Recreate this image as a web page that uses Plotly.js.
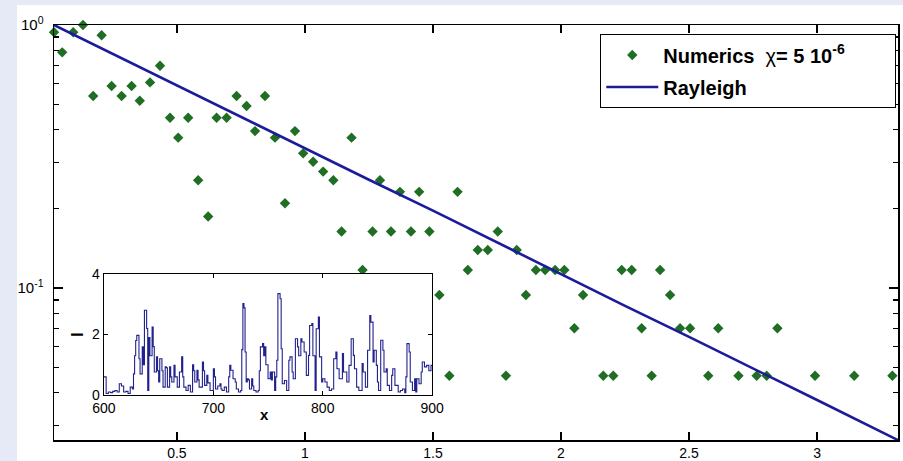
<!DOCTYPE html>
<html>
<head>
<meta charset="utf-8">
<script src="https://cdn.plot.ly/plotly-3.0.1.min.js"></script>
<style>
  html, body { margin: 0; padding: 0; width: 903px; height: 461px; background: #e6eaf7; overflow: hidden; }
  #chart { position: absolute; left: 17px; top: 5px; width: 886px; height: 456px; }
</style>
</head>
<body>
<div id="chart"></div>
<script>
// ---- Main panel: numerics (histogram tail) ----
const numericsX = [0.020, 0.052, 0.095, 0.133, 0.173, 0.206, 0.245, 0.284, 0.323, 0.355,
  0.395, 0.434, 0.473, 0.505, 0.544, 0.583, 0.622, 0.655, 0.694, 0.733,
  0.772, 0.805, 0.844, 0.883, 0.922, 0.961, 0.993, 1.032, 1.071, 1.111,
  1.143, 1.182, 1.225, 1.264, 1.293, 1.336, 1.371, 1.414, 1.446, 1.486,
  1.525, 1.564, 1.596, 1.636, 1.675, 1.714, 1.753, 1.785, 1.827, 1.863,
  1.902, 1.938, 1.977, 2.013, 2.052, 2.086, 2.165, 2.204, 2.237, 2.276,
  2.315, 2.354, 2.387, 2.426, 2.465, 2.504, 2.575, 2.614, 2.693, 2.764,
  2.803, 2.845, 2.992, 3.145, 3.294, 3.322];
const numericsY = [0.938, 0.787, 0.938, 1.0, 0.537, 0.914, 0.586, 0.537, 0.586, 0.515,
  0.605, 0.70, 0.444, 0.373, 0.444, 0.257, 0.187, 0.444, 0.444, 0.537,
  0.492, 0.395, 0.537, 0.373, 0.21, 0.395, 0.325, 0.302, 0.277, 0.257,
  0.164, 0.373, 0.117, 0.164, 0.257, 0.164, 0.232, 0.164, 0.232, 0.164,
  0.094, 0.0464, 0.232, 0.117, 0.1395, 0.1395, 0.164, 0.0464, 0.1395, 0.094,
  0.117, 0.117, 0.117, 0.117, 0.0703, 0.094, 0.0464, 0.0464, 0.117, 0.117,
  0.0703, 0.0464, 0.117, 0.094, 0.0703, 0.0703, 0.0464, 0.0703, 0.0464, 0.0464,
  0.0464, 0.0703, 0.0464, 0.0464, 0.0464, 0.0464];

// ---- Main panel: Rayleigh reference line ----
const rayleighX = [0.02, 0.25, 0.5, 0.75, 1.0, 1.25, 1.5, 1.75, 2.0, 2.25, 2.5, 2.75, 3.0, 3.316];
const rayleighY = [1.0, 0.776, 0.589, 0.447, 0.341, 0.258, 0.197, 0.149, 0.1135, 0.0855, 0.0652, 0.0493, 0.0375, 0.0264];

// ---- Inset: intensity I(x) ----
const insetX = [600,601,602,604,606,608,610,612,614,616,618,620,622,624,626,627,628,629,630,632,
  633,635,636,637,639,640,641,642,644,645,646,648,649,650,651,653,654,656,657,658,
  660,661,662,664,665,667,669,671,672,673,675,677,679,681,682,683,685,686,687,690,
  691,692,694,695,697,700,701,702,704,706,707,708,710,712,714,715,716,718,720,721,
  723,725,726,727,728,729,730,731,732,733,735,736,737,739,741,742,743,745,746,747,
  748,750,752,753,754,756,757,758,759,760,761,762,763,765,767,769,770,772,773,775,
  777,778,780,781,783,785,787,788,790,791,793,794,796,797,799,800,802,804,806,808,
  810,812,813,815,818,819,822,824,826,828,829,831,833,836,837,839,841,843,844,846,
  847,849,850,851,853,855,856,858,859,861,863,864,866,869,871,873,875,876,877,879,
  880,882,884,885,886,888,890,891,893,895,897,899,900];
const insetI = [0.6,0.6,0.05,0.1,0.08,0.12,0.15,0.1,0.37,0.3,0.1,0.12,0.05,0.26,0.2,0.7,1.3,1.8,1.97,1.2,
  0.7,1.59,1.0,2.8,2.2,0.15,1.9,1.3,2.25,1.6,0.76,1.26,0.8,0.43,1.2,0.8,0.26,0.93,0.9,0.26,
  0.93,0.6,0.43,0.98,0.6,0.26,0.76,1.26,0.6,0.26,0.15,0.32,0.1,1.0,0.8,0.43,0.82,0.5,0.26,1.09,
  0.8,0.32,0.65,0.4,0.15,0.87,0.6,0.2,0.3,0.37,0.2,0.15,0.26,0.1,0.6,0.98,0.82,0.54,0.43,0.2,
  0.1,0.15,1.5,3.02,2.88,1.42,0.43,0.54,0.5,0.2,0.54,0.3,0.15,0.1,0.15,0.8,1.59,1.7,1.3,1.59,
  1.0,0.54,0.76,0.5,0.76,0.15,0.6,1.15,3.35,3.35,3.18,1.53,0.37,0.48,0.15,1.15,1.26,0.76,0.54,1.86,
  1.59,1.3,1.86,1.75,1.42,0.65,1.31,2.3,2.36,1.3,0.15,2.19,2.58,1.26,0.43,0.54,0.43,0.26,0.15,0.2,
  1.2,1.42,0.87,0.54,1.37,0.76,0.43,0.98,1.86,1.31,0.87,0.26,0.15,1.04,0.76,0.26,1.48,2.63,2.41,1.09,
  1.48,0.98,0.43,0.15,1.81,1.48,0.76,0.87,0.32,0.15,0.65,0.87,0.32,0.1,0.15,0.2,0.08,0.6,1.7,1.42,
  0.43,0.15,0.54,0.1,0.54,0.37,0.76,1.09,0.93,0.98,0.8,0.98,0.98];

const mainTickVals = [1, 0.1];
const mainTickText = ['10<sup>0</sup>', '10<sup>-1</sup>'];
const minorTickVals = [0.03, 0.04, 0.05, 0.06, 0.07, 0.08, 0.09, 0.2, 0.3, 0.4, 0.5, 0.6, 0.7, 0.8, 0.9];
const insetXTicks = [600, 700, 800, 900];
const insetYTicks = [0, 2, 4];

const FONT = 'Liberation Sans, Arial, Helvetica, sans-serif';
const GREEN = '#1f6e23';
const NAVY = '#1b1b9c';
const PAD = '\u00a0'.repeat(8);

const traces = [
  {
    x: numericsX, y: numericsY, type: 'scatter', mode: 'markers',
    name: '<b>Numerics</b>  <span style="font-weight:normal">χ</span><b>= 5 10<sup>-6</sup></b>' + PAD,
    legendgroup: 'a',
    marker: { symbol: 'diamond', size: 8, color: GREEN },
    cliponaxis: false, xaxis: 'x', yaxis: 'y'
  },
  {
    x: rayleighX, y: rayleighY, type: 'scatter', mode: 'lines',
    name: '<b>Rayleigh</b>',
    legendgroup: 'b',
    line: { color: NAVY, width: 2.6 },
    xaxis: 'x', yaxis: 'y'
  },
  {
    x: insetX, y: insetI, type: 'scatter', mode: 'lines',
    line: { color: '#22228e', width: 1.1, shape: 'hv' },
    showlegend: false, xaxis: 'x2', yaxis: 'y2'
  }
];

const layout = {
  width: 886, height: 456,
  margin: { l: 37, r: 5, t: 20, b: 21 },
  paper_bgcolor: '#ffffff',
  plot_bgcolor: '#ffffff',
  font: { family: FONT, size: 14, color: '#000' },
  showlegend: true,
  legend: {
    x: 0.9976, y: 0.978, xanchor: 'right', yanchor: 'top',
    bgcolor: '#ffffff', bordercolor: '#000', borderwidth: 1.3,
    font: { family: FONT, size: 20, color: '#000' },
    itemwidth: 52,
    traceorder: 'grouped', tracegroupgap: 3
  },
  xaxis: {
    domain: [0, 1], anchor: 'y',
    range: [0.02, 3.316],
    tickvals: [0.5, 1, 1.5, 2, 2.5, 3],
    ticktext: ['0.5', '1', '1.5', '2', '2.5', '3'],
    ticks: 'inside', ticklen: 8, tickwidth: 1.5, tickcolor: '#000',
    showline: true, linecolor: '#000', linewidth: 1.5, mirror: 'allticks',
    showgrid: false, zeroline: false,
    tickfont: { family: FONT, size: 14 }
  },
  yaxis: {
    domain: [0, 1], anchor: 'x',
    type: 'log', range: [-1.578, 0],
    tickmode: 'array', tickvals: mainTickVals, ticktext: mainTickText,
    ticks: 'inside', ticklen: 9, tickwidth: 1.5, tickcolor: '#000',
    minor: { tickmode: 'array', tickvals: minorTickVals, ticks: 'inside', ticklen: 5, tickwidth: 1.3, tickcolor: '#000', showgrid: false },
    showline: true, linecolor: '#000', linewidth: 1.5, mirror: 'allticks',
    showgrid: false, zeroline: false,
    ticklabelstandoff: 6,
    tickfont: { family: FONT, size: 15 }
  },
  xaxis2: {
    domain: [0.0592, 0.448], anchor: 'y2',
    range: [600, 900],
    tickvals: insetXTicks,
    ticks: 'inside', ticklen: 4, tickwidth: 1.2, tickcolor: '#000',
    showline: true, linecolor: '#000', linewidth: 1.3, mirror: 'allticks',
    showgrid: false, zeroline: false,
    tickfont: { family: FONT, size: 14 }
  },
  yaxis2: {
    domain: [0.1084, 0.4], anchor: 'x2',
    range: [0, 4],
    tickvals: insetYTicks,
    ticks: 'inside', ticklen: 4, tickwidth: 1.2, tickcolor: '#000',
    showline: true, linecolor: '#000', linewidth: 1.3, mirror: 'allticks',
    showgrid: false, zeroline: false,
    tickfont: { family: FONT, size: 14 },
    title: { text: '<b>I</b>', font: { family: FONT, size: 16 }, standoff: 4 }
  },
  annotations: [
    { text: '<b>x</b>', xref: 'x2 domain', yref: 'y2 domain', x: 0.49, y: 0,
      xanchor: 'center', yanchor: 'middle', yshift: -19, showarrow: false,
      font: { family: FONT, size: 15, color: '#000' } }
  ],
  shapes: [
    { type: 'rect', xref: 'x2', yref: 'y2', x0: 600, x1: 900, y0: 0, y1: 4,
      fillcolor: '#ffffff', line: { width: 0 }, layer: 'below' }
  ]
};

Plotly.newPlot('chart', traces, layout, { displayModeBar: false, staticPlot: true });
</script>
</body>
</html>
